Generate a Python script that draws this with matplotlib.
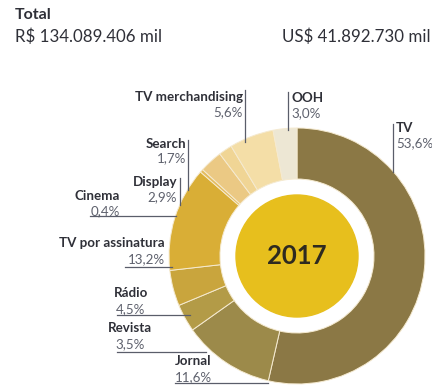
import matplotlib
matplotlib.use("Agg")
import matplotlib.pyplot as plt
from matplotlib.patches import Circle

# Advertising investment share by medium, 2017
media = ["TV", "Jornal", "Revista", "Rádio", "TV por assinatura",
         "Cinema", "Display", "Search", "TV merchandising", "OOH"]
shares = [53.6, 11.6, 3.5, 4.5, 13.2, 0.4, 2.9, 1.7, 5.6, 3.0]
colors = ["#8b7845", "#9c8a4a", "#b39b47", "#c9a53d", "#d9ae36",
          "#e3bc5f", "#ebc984", "#f0d595", "#f4dea7", "#ede7d4"]

total_brl = "R$ 134.089.406 mil"
total_usd = "US$ 41.892.730 mil"
year = "2017"

W, H = 432, 390
fig = plt.figure(figsize=(W / 100, H / 100), dpi=100)
ax = fig.add_axes([0, 0, 1, 1])

cx, cy = 297, H - 256
r_out, r_in = 128, 77

ax.pie(shares, colors=colors, startangle=90, counterclock=False,
       center=(cx, cy), radius=r_out,
       wedgeprops=dict(width=r_out - r_in, edgecolor="#f5ead0", linewidth=0.7))
ax.add_patch(Circle((cx, cy), 61, color="#e7bf1d", zorder=3))
ax.text(cx, cy, year, ha="center", va="center", fontsize=18.5,
        fontweight="bold", color="#2e2a20", family="Lato", zorder=4)

ax.set_xlim(0, W)
ax.set_ylim(0, H)
ax.set_aspect("auto")
ax.axis("off")

def Y(y):
    return H - y

dark = "#2f3038"
grey = "#5e616d"
line_c = "#5a5d6a"
fs = 9.6

def label(name, pct, x, y_name, y_pct, ha):
    ax.text(x, Y(y_name), name, ha=ha, va="center", fontsize=fs,
            fontweight="bold", color=dark, family="Lato")
    ax.text(x, Y(y_pct), pct, ha=ha, va="center", fontsize=fs,
            color=grey, family="Lato")

def fmt(v):
    return f"{v:.1f}%".replace(".", ",")

pos = {
    "TV merchandising": (243, 97, 112, "right"),
    "OOH": (291, 98, 113, "left"),
    "TV": (396, 128, 143, "left"),
    "Search": (186, 144, 158, "right"),
    "Display": (177, 182, 197, "right"),
    "Cinema": (120, 196, 211, "right"),
    "TV por assinatura": (165, 243, 259, "right"),
    "Rádio": (131, 293, 309, "center"),
    "Revista": (130, 328, 344, "center"),
    "Jornal": (193, 361, 377, "center"),
}
for name, v in zip(media, shares):
    x, yn, yp, ha = pos[name]
    label(name, fmt(v), x, yn, yp, ha)

# leader lines
vlines = [(245, 90, 142), (288, 92, 130), (393, 124, 172),
          (188, 140, 190), (180, 178, 205)]
for x, y0, y1 in vlines:
    ax.plot([x, x], [Y(y0), Y(y1)], color=line_c, lw=0.9, zorder=5)
hlines = [(216, 90, 176), (267, 125, 172), (315, 117, 190),
          (352, 117, 206), (383, 175, 268)]
for y, x0, x1 in hlines:
    ax.plot([x0, x1], [Y(y), Y(y)], color=line_c, lw=0.9, zorder=5)

# header
ax.text(15, Y(15), "Total", ha="left", va="center", fontsize=11.5,
        fontweight="bold", color=dark, family="Lato")
ax.text(15, Y(37), total_brl, ha="left", va="center", fontsize=12.2,
        color=dark, family="Lato")
ax.text(430, Y(37), total_usd, ha="right", va="center", fontsize=12.2,
        color=dark, family="Lato")

fig.savefig("out.png", dpi=100, facecolor="white")
